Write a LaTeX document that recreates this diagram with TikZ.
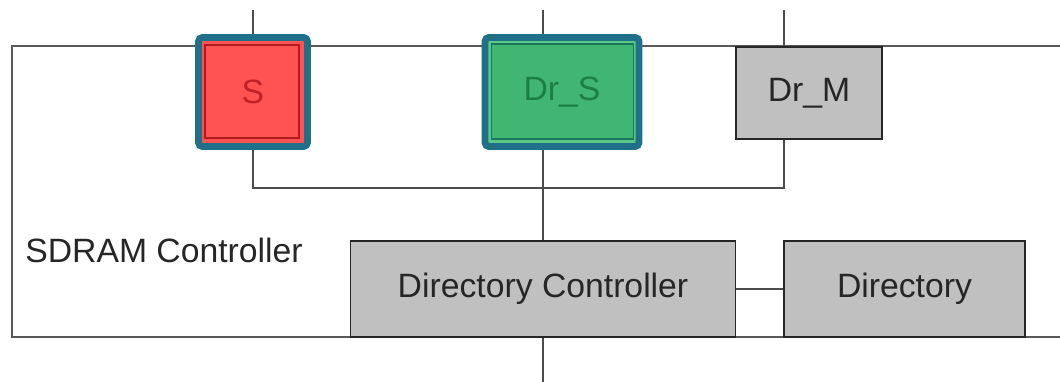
\documentclass[tikz,border=0pt]{standalone}
\usepackage{fontspec}
\setmainfont{Liberation Sans}
\usepackage{tikz}
\usetikzlibrary{positioning, calc}
\definecolor{rimteal}{RGB}{31,112,136}
\definecolor{sred}{RGB}{255,82,82}
\definecolor{sredtext}{RGB}{196,32,40}
\definecolor{sredline}{RGB}{176,28,32}
\definecolor{drgreen}{RGB}{64,182,114}
\definecolor{drgreenband}{RGB}{88,200,132}
\definecolor{drgreentext}{RGB}{28,128,68}
\definecolor{drgreenline}{RGB}{26,118,96}
\definecolor{boxgray}{RGB}{192,192,192}
\tikzset{
  bigfont/.style={font=\fontsize{24}{28}\selectfont, text=black!85},
  unit/.style={draw=black!85, line width=1.4pt, fill=boxgray, bigfont, inner sep=0pt},
  hot/.style={draw=rimteal, line width=4.8pt, rounded corners=1mm, inner sep=0pt, bigfont},
  wire/.style={draw=black!70, line width=1.4pt},
  frame/.style={draw=black!65, line width=1.8pt},
}

\begin{document}
\begin{tikzpicture}[x=0.25mm, y=-0.25mm]
	\useasboundingbox (0,0) rectangle (1060,382);
	% outer block
	\draw [frame] (1070,46) -- (12,46) -- (12,337) -- (1070,337);
	\node [bigfont, anchor=base west, inner sep=0pt] (sdram) at (25,263) {SDRAM Controller};
	% slaves / masters
	\node [hot, fill=sred, text=sredtext, minimum width=27.25mm, minimum height=27.3mm] (S) at (253,92) {S};
	\draw [sredline, line width=1pt] ([shift={(10,11)}]S.north west) rectangle ([shift={(-12,-12)}]S.south east);
	\node [hot, fill=drgreenband, minimum width=38.5mm, minimum height=27.3mm] (DrS) at (562,92) {};
	\draw [drgreenline, fill=drgreen, line width=1pt] ([shift={(10,10)}]DrS.north west) rectangle ([shift={(-9,-11)}]DrS.south east);
	\node [bigfont, text=drgreentext] (DrSlabel) at (DrS) {Dr\_S};
	\node [unit, minimum width=36.5mm, minimum height=23mm] (DrM) at (809,93) {Dr\_M};
	% directory side
	\node [unit, minimum width=96.25mm, minimum height=24mm] (DirCtrl) at (543,289) {Directory Controller};
	\node [unit, minimum width=60.25mm, minimum height=24mm] (Dir) at (904.5,289) {Directory};
	% ports
	\coordinate (inS) at (253,10);
	\coordinate (inDrS) at (543,10);
	\coordinate (inDrM) at (784,10);
	\coordinate (busR) at (784,188);
	\coordinate (out) at (543,390);
	% wires
	\draw [wire] (inS) -- (S);
	\draw [wire] (inDrS) -- (inDrS |- DrS.north);
	\draw [wire] (inDrM) -- (inDrM |- DrM.north);
	\draw [wire] (S.south) |- (busR) -- (busR |- DrM.south);
	\draw [wire] (DrS.south -| DirCtrl.north) -- (DirCtrl.north);
	\draw [wire] (DirCtrl) -- (Dir);
	\draw [wire] (DirCtrl.south) -- (out);
\end{tikzpicture}
\end{document}
